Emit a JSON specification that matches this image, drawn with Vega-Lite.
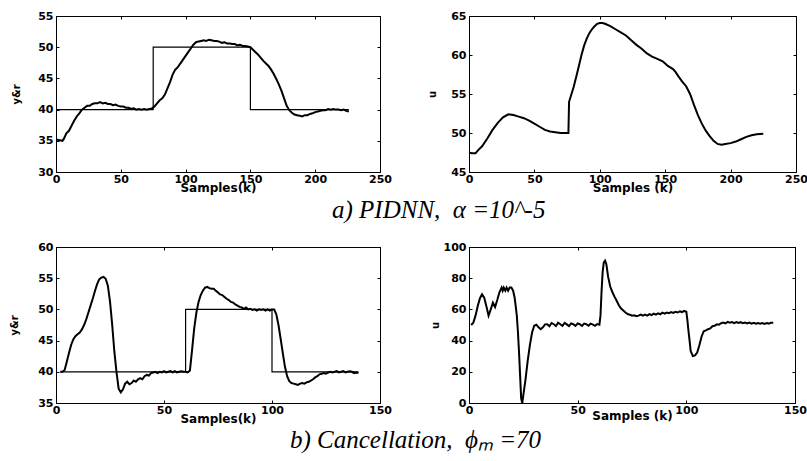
{
"$schema":"https://vega.github.io/schema/vega-lite/v6.json",
"background":"white",
"padding":{"left":9,"top":9,"right":0,"bottom":0},
"config":{
 "view":{"stroke":"black","strokeWidth":1},
 "axis":{"grid":false,"domain":true,"domainColor":"black","domainWidth":1,"tickColor":"black","tickSize":-3,"tickWidth":1,
  "labelFont":"DejaVu Sans","labelFontWeight":"bold","labelFontSize":11,"labelColor":"black","labelPadding":6,
  "titleFont":"DejaVu Sans","titleFontWeight":"bold","titleColor":"black","labelOverlap":false,"labelFlush":false},
 "axisX":{"titleFontSize":12,"labelPadding":4},
 "axisY":{"titleFontSize":10},
 "title":{"orient":"bottom","frame":"group","anchor":"start","baseline":"alphabetic","font":"Liberation Serif","fontStyle":"italic","fontWeight":"normal","fontSize":25,"color":"black"}
},
"datasets":{
 "p1r":[{"i":0,"k":0,"v":40},{"i":1,"k":75,"v":40},{"i":2,"k":75,"v":50},{"i":3,"k":150,"v":50},{"i":4,"k":150,"v":40},{"i":5,"k":226,"v":40}],
 "p1y":[{"k":0,"v":35.2},{"k":3,"v":35.1},{"k":5,"v":35.0},{"k":6,"v":35.3},{"k":8,"v":36.2},{"k":10,"v":36.6},{"k":12,"v":37.4},{"k":14,"v":38.2},{"k":16,"v":38.9},{"k":18,"v":39.4},{"k":20,"v":40.0},{"k":22,"v":40.3},{"k":24,"v":40.6},{"k":26,"v":40.6},{"k":28,"v":40.9},{"k":30,"v":41.0},{"k":32,"v":41.0},{"k":34,"v":41.2},{"k":36,"v":41.0},{"k":38,"v":41.1},{"k":40,"v":40.9},{"k":42,"v":40.9},{"k":44,"v":40.7},{"k":46,"v":40.8},{"k":48,"v":40.6},{"k":50,"v":40.5},{"k":52,"v":40.5},{"k":54,"v":40.3},{"k":56,"v":40.3},{"k":58,"v":40.1},{"k":60,"v":40.2},{"k":62,"v":40.0},{"k":64,"v":40.1},{"k":66,"v":40.0},{"k":68,"v":40.1},{"k":70,"v":40.0},{"k":72,"v":40.1},{"k":74,"v":40.2},{"k":76,"v":40.5},{"k":78,"v":41.0},{"k":80,"v":41.5},{"k":82,"v":41.8},{"k":84,"v":42.4},{"k":86,"v":43.4},{"k":88,"v":44.4},{"k":90,"v":45.6},{"k":92,"v":46.4},{"k":94,"v":46.8},{"k":96,"v":47.4},{"k":98,"v":48.0},{"k":100,"v":48.6},{"k":102,"v":49.2},{"k":104,"v":49.8},{"k":106,"v":50.4},{"k":108,"v":50.8},{"k":110,"v":50.9},{"k":112,"v":51.0},{"k":114,"v":51.1},{"k":116,"v":51.0},{"k":118,"v":51.2},{"k":120,"v":51.1},{"k":122,"v":51.0},{"k":124,"v":51.0},{"k":126,"v":50.9},{"k":128,"v":50.7},{"k":130,"v":50.8},{"k":132,"v":50.6},{"k":134,"v":50.6},{"k":136,"v":50.5},{"k":138,"v":50.5},{"k":140,"v":50.3},{"k":142,"v":50.4},{"k":144,"v":50.2},{"k":146,"v":50.2},{"k":148,"v":50.1},{"k":150,"v":50.0},{"k":152,"v":49.6},{"k":154,"v":49.2},{"k":156,"v":48.8},{"k":158,"v":48.3},{"k":160,"v":47.8},{"k":162,"v":47.4},{"k":164,"v":47.0},{"k":166,"v":46.4},{"k":168,"v":45.7},{"k":170,"v":44.9},{"k":172,"v":44.0},{"k":174,"v":43.0},{"k":176,"v":41.8},{"k":178,"v":40.6},{"k":180,"v":39.9},{"k":182,"v":39.5},{"k":184,"v":39.2},{"k":186,"v":39.1},{"k":188,"v":39.0},{"k":190,"v":38.9},{"k":192,"v":39.1},{"k":194,"v":39.1},{"k":196,"v":39.3},{"k":198,"v":39.4},{"k":200,"v":39.6},{"k":202,"v":39.7},{"k":204,"v":39.8},{"k":206,"v":39.9},{"k":208,"v":39.9},{"k":210,"v":40.1},{"k":212,"v":40.0},{"k":214,"v":40.1},{"k":216,"v":40.0},{"k":218,"v":40.0},{"k":220,"v":39.9},{"k":222,"v":40.0},{"k":224,"v":39.8},{"k":226,"v":39.7}],
 "p2u":[{"k":0,"v":47.5},{"k":2,"v":47.4},{"k":5,"v":47.4},{"k":7,"v":47.8},{"k":10,"v":48.3},{"k":14,"v":49.3},{"k":18,"v":50.4},{"k":22,"v":51.3},{"k":26,"v":52.0},{"k":30,"v":52.4},{"k":34,"v":52.3},{"k":38,"v":52.1},{"k":42,"v":51.9},{"k":46,"v":51.6},{"k":50,"v":51.2},{"k":54,"v":50.8},{"k":58,"v":50.4},{"k":62,"v":50.2},{"k":66,"v":50.1},{"k":70,"v":50.0},{"k":75,"v":50.0},{"k":76,"v":50.0},{"k":76.5,"v":54.0},{"k":78,"v":54.8},{"k":80,"v":55.9},{"k":82,"v":57.2},{"k":84,"v":58.6},{"k":86,"v":60.0},{"k":88,"v":61.2},{"k":90,"v":62.1},{"k":92,"v":62.8},{"k":94,"v":63.3},{"k":96,"v":63.7},{"k":98,"v":64.0},{"k":100,"v":64.1},{"k":102,"v":64.1},{"k":104,"v":64.0},{"k":108,"v":63.7},{"k":112,"v":63.3},{"k":116,"v":62.9},{"k":120,"v":62.5},{"k":124,"v":61.9},{"k":128,"v":61.3},{"k":132,"v":60.8},{"k":136,"v":60.2},{"k":140,"v":59.8},{"k":144,"v":59.5},{"k":148,"v":59.2},{"k":150,"v":58.9},{"k":152,"v":58.6},{"k":156,"v":58.2},{"k":158,"v":57.8},{"k":160,"v":57.3},{"k":163,"v":56.6},{"k":166,"v":56.0},{"k":169,"v":55.0},{"k":172,"v":53.6},{"k":175,"v":52.3},{"k":178,"v":51.2},{"k":181,"v":50.3},{"k":184,"v":49.6},{"k":187,"v":49.0},{"k":190,"v":48.6},{"k":193,"v":48.5},{"k":196,"v":48.6},{"k":200,"v":48.7},{"k":204,"v":48.9},{"k":208,"v":49.2},{"k":212,"v":49.5},{"k":216,"v":49.7},{"k":220,"v":49.85},{"k":225,"v":49.9}],
 "p3r":[{"i":0,"k":2,"v":40},{"i":1,"k":60,"v":40},{"i":2,"k":60,"v":50},{"i":3,"k":100,"v":50},{"i":4,"k":100,"v":40},{"i":5,"k":140,"v":40}],
 "p3y":[{"k":2,"v":40.0},{"k":3,"v":40.0},{"k":4,"v":40.3},{"k":5,"v":41.6},{"k":6,"v":43.0},{"k":7,"v":44.3},{"k":8,"v":45.2},{"k":9,"v":45.7},{"k":10,"v":46.0},{"k":11,"v":46.3},{"k":12,"v":46.8},{"k":13,"v":47.5},{"k":14,"v":48.4},{"k":15,"v":49.5},{"k":16,"v":50.6},{"k":17,"v":51.7},{"k":18,"v":52.9},{"k":19,"v":54.0},{"k":20,"v":54.8},{"k":21,"v":55.1},{"k":22,"v":55.2},{"k":23,"v":54.9},{"k":24,"v":53.8},{"k":25,"v":51.3},{"k":26,"v":47.6},{"k":27,"v":43.3},{"k":28,"v":40.0},{"k":29,"v":37.3},{"k":30,"v":36.7},{"k":31,"v":37.2},{"k":32,"v":38.1},{"k":33,"v":38.4},{"k":34,"v":38.0},{"k":35,"v":38.2},{"k":36,"v":38.6},{"k":37,"v":38.4},{"k":38,"v":38.8},{"k":39,"v":39.0},{"k":40,"v":38.8},{"k":41,"v":39.3},{"k":42,"v":39.5},{"k":43,"v":39.4},{"k":44,"v":39.8},{"k":45,"v":39.9},{"k":46,"v":40.0},{"k":47,"v":39.8},{"k":48,"v":40.0},{"k":49,"v":39.9},{"k":50,"v":40.1},{"k":51,"v":39.9},{"k":52,"v":40.0},{"k":53,"v":40.1},{"k":54,"v":39.9},{"k":55,"v":40.1},{"k":56,"v":39.9},{"k":57,"v":40.0},{"k":58,"v":40.1},{"k":59,"v":40.0},{"k":60,"v":40.0},{"k":61,"v":39.9},{"k":62,"v":40.2},{"k":63,"v":43.5},{"k":64,"v":47.0},{"k":65,"v":49.5},{"k":66,"v":51.2},{"k":67,"v":52.3},{"k":68,"v":53.0},{"k":69,"v":53.5},{"k":70,"v":53.6},{"k":71,"v":53.4},{"k":72,"v":53.3},{"k":73,"v":53.3},{"k":74,"v":53.0},{"k":75,"v":52.7},{"k":76,"v":52.4},{"k":77,"v":52.3},{"k":78,"v":52.0},{"k":79,"v":51.7},{"k":80,"v":51.5},{"k":81,"v":51.2},{"k":82,"v":51.1},{"k":83,"v":50.8},{"k":84,"v":50.6},{"k":85,"v":50.4},{"k":86,"v":50.3},{"k":87,"v":50.1},{"k":88,"v":50.3},{"k":89,"v":50.0},{"k":90,"v":50.1},{"k":91,"v":49.9},{"k":92,"v":50.0},{"k":93,"v":49.8},{"k":94,"v":50.0},{"k":95,"v":49.9},{"k":96,"v":50.0},{"k":97,"v":49.8},{"k":98,"v":50.0},{"k":99,"v":49.8},{"k":100,"v":50.0},{"k":101,"v":50.0},{"k":102,"v":49.2},{"k":103,"v":47.5},{"k":104,"v":45.3},{"k":105,"v":43.0},{"k":106,"v":40.8},{"k":107,"v":39.3},{"k":108,"v":38.5},{"k":109,"v":38.2},{"k":110,"v":38.1},{"k":111,"v":38.0},{"k":112,"v":37.9},{"k":113,"v":38.1},{"k":114,"v":38.2},{"k":115,"v":38.1},{"k":116,"v":38.3},{"k":117,"v":38.4},{"k":118,"v":38.6},{"k":119,"v":38.8},{"k":120,"v":39.1},{"k":121,"v":39.3},{"k":122,"v":39.6},{"k":123,"v":39.7},{"k":124,"v":39.8},{"k":125,"v":39.7},{"k":126,"v":39.9},{"k":127,"v":40.0},{"k":128,"v":39.9},{"k":129,"v":40.0},{"k":130,"v":40.1},{"k":131,"v":39.9},{"k":132,"v":40.0},{"k":133,"v":40.1},{"k":134,"v":39.9},{"k":135,"v":40.0},{"k":136,"v":40.1},{"k":137,"v":40.0},{"k":138,"v":39.8},{"k":139,"v":39.9},{"k":140,"v":39.8}],
 "p4u":[{"k":1,"v":50},{"k":2,"v":51.5},{"k":3,"v":56},{"k":4,"v":62},{"k":5,"v":67},{"k":6,"v":69.7},{"k":7,"v":67.5},{"k":8,"v":62},{"k":9,"v":56},{"k":10,"v":60},{"k":11,"v":64.3},{"k":12,"v":61.5},{"k":13,"v":66},{"k":14,"v":71},{"k":15,"v":74},{"k":15.5,"v":72},{"k":16,"v":74},{"k":16.7,"v":72},{"k":17.3,"v":74},{"k":18,"v":72},{"k":18.7,"v":74},{"k":19.5,"v":74},{"k":20.3,"v":72},{"k":21,"v":67.5},{"k":21.5,"v":62},{"k":22,"v":56},{"k":22.5,"v":46},{"k":23,"v":33},{"k":23.5,"v":18},{"k":24,"v":3},{"k":24.5,"v":0},{"k":25,"v":5},{"k":26,"v":15},{"k":27,"v":27},{"k":28,"v":37},{"k":29,"v":45},{"k":30,"v":49.5},{"k":31,"v":50.2},{"k":32,"v":48.5},{"k":33,"v":47.3},{"k":34,"v":48.5},{"k":35,"v":50.4},{"k":36,"v":50.5},{"k":37,"v":49.2},{"k":38,"v":51.3},{"k":39,"v":50.5},{"k":40,"v":49.4},{"k":41,"v":51.5},{"k":42,"v":50.5},{"k":43,"v":49.4},{"k":44,"v":51.3},{"k":45,"v":50.4},{"k":46,"v":49.3},{"k":47,"v":51.0},{"k":48,"v":50.5},{"k":49,"v":49.4},{"k":50,"v":51.0},{"k":51,"v":50.5},{"k":52,"v":49.4},{"k":53,"v":50.9},{"k":54,"v":50.5},{"k":55,"v":49.5},{"k":56,"v":50.9},{"k":57,"v":50.3},{"k":58,"v":49.5},{"k":59,"v":50.6},{"k":60,"v":50.2},{"k":60.5,"v":56},{"k":61,"v":71.8},{"k":61.5,"v":84},{"k":62,"v":90},{"k":62.6,"v":91.2},{"k":63.2,"v":89},{"k":64,"v":81},{"k":65,"v":74.5},{"k":66,"v":71},{"k":67,"v":68},{"k":68,"v":65.4},{"k":69,"v":62.5},{"k":70,"v":60.5},{"k":71,"v":59.3},{"k":72,"v":58.0},{"k":73,"v":57.0},{"k":74,"v":56.6},{"k":75,"v":56.0},{"k":76,"v":56.2},{"k":77,"v":55.6},{"k":78,"v":56.0},{"k":79,"v":56.6},{"k":80,"v":56.0},{"k":81,"v":56.6},{"k":82,"v":56.0},{"k":83,"v":57.0},{"k":84,"v":56.3},{"k":85,"v":57.3},{"k":86,"v":56.7},{"k":87,"v":57.5},{"k":88,"v":56.9},{"k":89,"v":57.9},{"k":90,"v":57.3},{"k":91,"v":58.0},{"k":92,"v":57.6},{"k":93,"v":58.3},{"k":94,"v":57.7},{"k":95,"v":58.5},{"k":96,"v":58.0},{"k":97,"v":58.8},{"k":98,"v":58.3},{"k":99,"v":59.0},{"k":100,"v":58.5},{"k":100.5,"v":53},{"k":101,"v":46},{"k":101.5,"v":40},{"k":102,"v":33.3},{"k":103,"v":30.1},{"k":104,"v":30.5},{"k":105,"v":32.3},{"k":106,"v":37},{"k":107,"v":42.5},{"k":108,"v":46},{"k":109,"v":46.5},{"k":110,"v":47.3},{"k":111,"v":47.8},{"k":112,"v":49.2},{"k":113,"v":49.5},{"k":114,"v":50.4},{"k":115,"v":50.2},{"k":116,"v":51.2},{"k":117,"v":51.5},{"k":118,"v":51.0},{"k":119,"v":52.0},{"k":120,"v":51.5},{"k":121,"v":51.9},{"k":122,"v":51.2},{"k":123,"v":51.9},{"k":124,"v":51.3},{"k":125,"v":51.8},{"k":126,"v":51.1},{"k":127,"v":51.6},{"k":128,"v":51.0},{"k":129,"v":51.5},{"k":130,"v":50.9},{"k":131,"v":51.4},{"k":132,"v":50.8},{"k":133,"v":51.3},{"k":134,"v":50.8},{"k":135,"v":51.2},{"k":136,"v":50.7},{"k":137,"v":51.2},{"k":138,"v":50.9},{"k":139,"v":51.5},{"k":140,"v":51.5}]
},
"bounds":"flush",
"columns":2,
"spacing":{"row":75,"column":89},
"concat":[
  {"width":324,"height":156,
   "title":{"text":"a) PIDNN,\u00a0 α =10^-5","offset":5,"dx":276},
   "layer":[
    {"data":{"name":"p1r"},"mark":{"type":"line","color":"black","strokeWidth":1.2},
     "encoding":{"x":{"field":"k","type":"quantitative","scale":{"domain":[0,250],"nice":false},"axis":{"values":[0,50,100,150,200,250],"title":"Samples(k)","titlePadding":-2}},
      "y":{"field":"v","type":"quantitative","scale":{"domain":[30,55],"nice":false,"zero":false},"axis":{"values":[30,35,40,45,50,55],"title":"y&r","titlePadding":16}},
      "order":{"field":"i"}}},
    {"data":{"name":"p1y"},"mark":{"type":"line","color":"black","strokeWidth":2},
     "encoding":{"x":{"field":"k","type":"quantitative","axis":null},"y":{"field":"v","type":"quantitative","axis":null}}},
    {"data":{"name":"p1y"},"mark":{"type":"point","opacity":0},
     "encoding":{"x":{"field":"k","type":"quantitative","axis":{"orient":"top","labels":false,"title":null,"values":[0,50,100,150,200,250]}},
      "y":{"field":"v","type":"quantitative","axis":{"orient":"right","labels":false,"title":null,"values":[30,35,40,45,50,55]}}}}
   ],
   "resolve":{"axis":{"x":"independent","y":"independent"}}},
  {"width":327,"height":156,
   "layer":[
    {"data":{"name":"p2u"},"mark":{"type":"line","color":"black","strokeWidth":2},
     "encoding":{"x":{"field":"k","type":"quantitative","scale":{"domain":[0,250],"nice":false},"axis":{"values":[0,50,100,150,200,250],"title":"Samples (k)","titlePadding":-2}},
      "y":{"field":"v","type":"quantitative","scale":{"domain":[45,65],"nice":false,"zero":false},"axis":{"values":[45,50,55,60,65],"title":"u","titlePadding":13}}}},
    {"data":{"name":"p2u"},"mark":{"type":"point","opacity":0},
     "encoding":{"x":{"field":"k","type":"quantitative","axis":{"orient":"top","labels":false,"title":null,"values":[0,50,100,150,200,250]}},
      "y":{"field":"v","type":"quantitative","axis":{"orient":"right","labels":false,"title":null,"values":[45,50,55,60,65]}}}}
   ],
   "resolve":{"axis":{"x":"independent","y":"independent"}}},
  {"width":324,"height":156,
   "title":{"text":"b) Cancellation,\u00a0 ϕₘ =70","offset":4,"dx":234},
   "layer":[
    {"data":{"name":"p3r"},"mark":{"type":"line","color":"black","strokeWidth":1.2},
     "encoding":{"x":{"field":"k","type":"quantitative","scale":{"domain":[0,150],"nice":false},"axis":{"values":[0,50,100,150],"title":"Samples(k)","titlePadding":-2}},
      "y":{"field":"v","type":"quantitative","scale":{"domain":[35,60],"nice":false,"zero":false},"axis":{"values":[35,40,45,50,55,60],"title":"y&r","titlePadding":18}},
      "order":{"field":"i"}}},
    {"data":{"name":"p3y"},"mark":{"type":"line","color":"black","strokeWidth":2},
     "encoding":{"x":{"field":"k","type":"quantitative","axis":null},"y":{"field":"v","type":"quantitative","axis":null}}},
    {"data":{"name":"p3y"},"mark":{"type":"point","opacity":0},
     "encoding":{"x":{"field":"k","type":"quantitative","axis":{"orient":"top","labels":false,"title":null,"values":[0,50,100,150]}},
      "y":{"field":"v","type":"quantitative","axis":{"orient":"right","labels":false,"title":null,"values":[35,40,45,50,55,60]}}}}
   ],
   "resolve":{"axis":{"x":"independent","y":"independent"}}},
  {"width":326,"height":156,
   "layer":[
    {"data":{"name":"p4u"},"mark":{"type":"line","color":"black","strokeWidth":2},
     "encoding":{"x":{"field":"k","type":"quantitative","scale":{"domain":[0,150],"nice":false},"axis":{"values":[0,50,100,150],"title":"Samples (k)","titlePadding":-5}},
      "y":{"field":"v","type":"quantitative","scale":{"domain":[0,100],"nice":false,"zero":false},"axis":{"values":[0,20,40,60,80,100],"title":"u","titlePadding":3}}}},
    {"data":{"name":"p4u"},"mark":{"type":"point","opacity":0},
     "encoding":{"x":{"field":"k","type":"quantitative","axis":{"orient":"top","labels":false,"title":null,"values":[0,50,100,150]}},
      "y":{"field":"v","type":"quantitative","axis":{"orient":"right","labels":false,"title":null,"values":[0,20,40,60,80,100]}}}}
   ],
   "resolve":{"axis":{"x":"independent","y":"independent"}}}
]
}
